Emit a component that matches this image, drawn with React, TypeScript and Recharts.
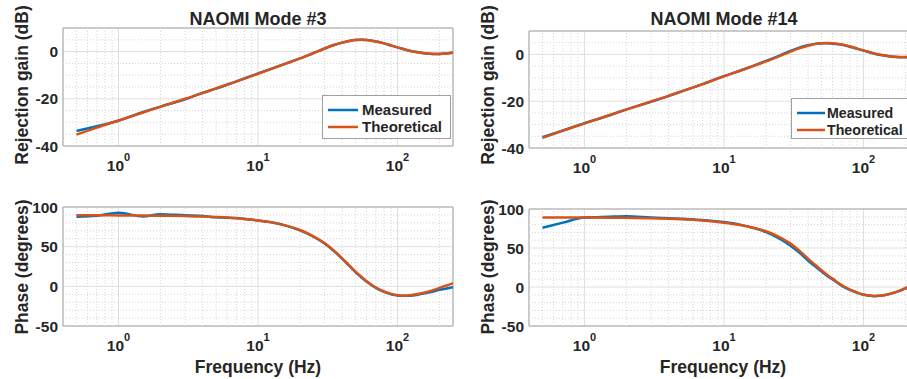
import React from 'react';
import {
  LineChart,
  Line,
  XAxis,
  YAxis,
  CartesianGrid,
  ReferenceLine,
  ReferenceArea,
} from 'recharts';

// frequency points (Hz), shared by every curve
const freq = [
  0.5, 0.7, 1, 1.5, 2, 3, 4, 5, 7, 10, 13, 16, 20, 25, 30, 35, 40, 45, 50, 55,
  60, 70, 80, 90, 100, 110, 120, 140, 160, 180, 200, 225, 250,
];

// Mode #3
const gainMeasured3 = [
  -33.6, -31.6, -29.3, -25.6, -23.3, -20.2, -17.5, -15.7, -12.6, -9.3, -6.9,
  -5.0, -2.9, -0.6, 1.3, 2.8, 3.8, 4.5, 4.9, 5.0, 4.9, 4.3, 3.5, 2.6, 1.8, 1.1,
  0.5, -0.3, -0.8, -1.0, -1.0, -0.8, -0.5,
];
const gainTheoretical3 = [
  -35.2, -32.2, -29.2, -25.8, -23.4, -20.0, -17.6, -15.6, -12.7, -9.4, -6.9,
  -5.0, -2.9, -0.6, 1.3, 2.8, 3.8, 4.5, 4.9, 5.0, 4.9, 4.3, 3.5, 2.6, 1.8, 1.1,
  0.5, -0.3, -0.8, -1.0, -1.0, -0.8, -0.4,
];
const phaseMeasured3 = [
  87.8, 89.0, 92.8, 88.0, 91.0, 89.5, 88.6, 87.0, 86.2, 83.0, 80.2, 76.2, 70.5,
  62.5, 54.0, 44.5, 35.0, 26.0, 18.0, 11.5, 6.0, -2.0, -7.0, -10.0, -11.6,
  -12.0, -11.8, -10.5, -8.5, -6.5, -4.5, -2.8, -1.2,
];
const phaseTheoretical3 = [
  89.5, 89.5, 89.4, 89.2, 89.0, 88.5, 88.0, 87.3, 85.8, 83.0, 80.0, 76.5, 71.0,
  63.0, 54.5, 45.0, 35.5, 26.5, 18.5, 12.0, 6.5, -1.5, -6.5, -9.5, -11.2,
  -11.8, -11.5, -9.6, -7.5, -4.8, -2.0, 1.0, 4.0,
];

// Mode #14
const gainMeasured14 = [
  -35.4, -32.5, -29.4, -26.1, -23.5, -20.3, -17.8, -15.8, -12.7, -9.3, -7.0,
  -5.0, -2.8, -0.5, 1.5, 3.0, 3.9, 4.5, 4.8, 4.8, 4.6, 4.1, 3.3, 2.4, 1.6, 0.9,
  0.3, -0.5, -1.0, -1.2, -1.2, -1.0, -0.6,
];
const gainTheoretical14 = [
  -35.7, -32.6, -29.5, -26.0, -23.6, -20.1, -17.7, -15.7, -12.8, -9.4, -7.0,
  -5.1, -3.0, -0.7, 1.2, 2.7, 3.7, 4.4, 4.8, 4.9, 4.8, 4.2, 3.4, 2.5, 1.7, 1.0,
  0.4, -0.4, -0.9, -1.1, -1.1, -0.9, -0.5,
];
const phaseMeasured14 = [
  76.0, 82.5, 89.0, 90.0, 90.6, 89.0, 88.0, 87.5, 85.8, 83.2, 80.0, 76.0, 70.5,
  62.0, 53.0, 43.5, 34.0, 26.5, 19.8, 14.2, 9.8, 1.5, -3.8, -7.4, -10.0, -11.3,
  -11.7, -10.7, -8.2, -5.3, -1.8, 1.2, 3.6,
];
const phaseTheoretical14 = [
  89.0, 89.0, 89.0, 88.9, 88.7, 88.2, 87.6, 86.9, 85.3, 82.5, 79.5, 76.2, 71.5,
  64.0, 55.6, 46.0, 36.4, 28.5, 21.4, 15.5, 10.8, 2.2, -3.3, -7.0, -9.7, -11.0,
  -11.5, -10.5, -8.0, -5.0, -1.5, 1.5, 4.0,
];

const xDomain: [number, number] = [0.4, 250];
const xTicks = [1, 10, 100];
const xMinor = [
  0.5, 0.6, 0.7, 0.8, 0.9, 2, 3, 4, 5, 6, 7, 8, 9, 20, 30, 40, 50, 60, 70, 80,
  90, 200,
];
const gainTicks = [-40, -20, 0];
const gainMinor = [-35, -30, -25, -15, -10, -5, 5];
const phaseTicks = [-50, 0, 50, 100];
const phaseMinor = [-40, -30, -20, -10, 10, 20, 30, 40, 60, 70, 80, 90];

const BLUE = '#0072BD';
const ORANGE = '#D95319';
const TEXT = '#262626';
const FONT = '"Liberation Sans", Arial, Helvetica, sans-serif';

const toRows = (measured: number[], theoretical: number[]) =>
  freq.map((f, i) => ({ f, measured: measured[i], theoretical: theoretical[i] }));

const PowerTick = (props: any) => {
  const { x, y, payload } = props;
  const exp = Math.round(Math.log10(payload.value));
  return (
    <text
      x={x}
      y={y + 25}
      textAnchor="middle"
      fontFamily={FONT}
      fontWeight="bold"
      fill={TEXT}
    >
      <tspan fontSize={15.5}>10</tspan>
      <tspan fontSize={11} dy={-10}>
        {exp}
      </tspan>
    </text>
  );
};

type PanelProps = {
  x0: number;
  y0: number;
  y1: number;
  rows: { f: number; measured: number; theoretical: number }[];
  yDomain: [number, number];
  yTicks: number[];
  yMinor: number[];
};

const Panel = ({ x0, y0, y1, rows, yDomain, yTicks, yMinor }: PanelProps) => {
  const plotH = y1 - y0;
  return (
    <div style={{ position: 'absolute', left: x0 - 63, top: y0 - 28 }}>
      <LineChart
        width={460}
        height={plotH + 63}
        data={rows}
        margin={{ top: 28, right: 7, bottom: 5, left: 23 }}
      >
        <XAxis
          dataKey="f"
          type="number"
          scale="log"
          domain={xDomain}
          ticks={xTicks}
          interval={0}
          allowDataOverflow
          height={30}
          tickSize={0}
          tickMargin={0}
          axisLine={false}
          tickLine={false}
          tick={<PowerTick />}
        />
        <YAxis
          type="number"
          domain={yDomain}
          ticks={yTicks}
          interval={0}
          allowDataOverflow
          width={40}
          tickSize={0}
          tickMargin={5}
          axisLine={false}
          tickLine={false}
          tick={{ fill: TEXT, fontSize: 15.5, fontWeight: 'bold', fontFamily: FONT }}
        />
        {xMinor.map((v) => (
          <ReferenceLine key={'x' + v} x={v} stroke="#d6d6d6" strokeDasharray="1 2" />
        ))}
        {yMinor.map((v) => (
          <ReferenceLine key={'y' + v} y={v} stroke="#d6d6d6" strokeDasharray="1 2" />
        ))}
        <CartesianGrid stroke="#e0e0e0" />
        <ReferenceArea
          x1={xDomain[0]}
          x2={xDomain[1]}
          y1={yDomain[0]}
          y2={yDomain[1]}
          fill="none"
          fillOpacity={0}
          stroke="#a6a6a6"
        />
        <Line
          dataKey="measured"
          type="monotone"
          stroke={BLUE}
          strokeWidth={2.5}
          dot={false}
          isAnimationActive={false}
        />
        <Line
          dataKey="theoretical"
          type="monotone"
          stroke={ORANGE}
          strokeWidth={2.5}
          dot={false}
          isAnimationActive={false}
        />
      </LineChart>
    </div>
  );
};

type LegendProps = {
  x: number;
  y: number;
  w: number;
  h: number;
  lineLen: number;
  textX: number;
  size: number;
};

const LegendBox = ({ x, y, w, h, lineLen, textX, size }: LegendProps) => (
  <g>
    <rect x={x + 0.5} y={y + 0.5} width={w} height={h} fill="#fff" stroke="#a0a0a0" />
    <line x1={x + 6} x2={x + 6 + lineLen} y1={y + 15} y2={y + 15} stroke={BLUE} strokeWidth={2.5} />
    <line x1={x + 6} x2={x + 6 + lineLen} y1={y + 32} y2={y + 32} stroke={ORANGE} strokeWidth={2.5} />
    <text x={x + textX} y={y + 20.3} fontSize={size} fontWeight="bold" fontFamily={FONT} fill={TEXT}>
      Measured
    </text>
    <text x={x + textX} y={y + 37.3} fontSize={size} fontWeight="bold" fontFamily={FONT} fill={TEXT}>
      Theoretical
    </text>
  </g>
);

const labelStyle = {
  fontSize: 17.5,
  fontWeight: 'bold' as const,
  fontFamily: FONT,
  fill: TEXT,
};

export default function App() {
  return (
    <div
      style={{
        position: 'absolute',
        left: 0,
        top: 0,
        width: 907,
        height: 379,
        overflow: 'hidden',
        background: '#fff',
      }}
    >
      <Panel
        x0={63}
        y0={28}
        y1={146}
        rows={toRows(gainMeasured3, gainTheoretical3)}
        yDomain={[-40, 10]}
        yTicks={gainTicks}
        yMinor={gainMinor}
      />
      <Panel
        x0={529}
        y0={31}
        y1={148}
        rows={toRows(gainMeasured14, gainTheoretical14)}
        yDomain={[-40, 10]}
        yTicks={gainTicks}
        yMinor={gainMinor}
      />
      <Panel
        x0={63}
        y0={207}
        y1={326}
        rows={toRows(phaseMeasured3, phaseTheoretical3)}
        yDomain={[-50, 100]}
        yTicks={phaseTicks}
        yMinor={phaseMinor}
      />
      <Panel
        x0={529}
        y0={209}
        y1={326}
        rows={toRows(phaseMeasured14, phaseTheoretical14)}
        yDomain={[-50, 100]}
        yTicks={phaseTicks}
        yMinor={phaseMinor}
      />
      <svg
        width={907}
        height={379}
        style={{ position: 'absolute', left: 0, top: 0, pointerEvents: 'none' }}
      >
        <text x={258} y={25} textAnchor="middle" {...labelStyle} fontSize={18}>
          NAOMI Mode #3
        </text>
        <text x={724} y={25} textAnchor="middle" {...labelStyle} fontSize={18}>
          NAOMI Mode #14
        </text>
        <text transform="translate(28,85) rotate(-90)" textAnchor="middle" {...labelStyle}>
          Rejection gain (dB)
        </text>
        <text transform="translate(28,267) rotate(-90)" textAnchor="middle" {...labelStyle}>
          Phase (degrees)
        </text>
        <text transform="translate(494,85) rotate(-90)" textAnchor="middle" {...labelStyle}>
          Rejection gain (dB)
        </text>
        <text transform="translate(494,267) rotate(-90)" textAnchor="middle" {...labelStyle}>
          Phase (degrees)
        </text>
        <text x={258} y={373} textAnchor="middle" {...labelStyle}>
          Frequency (Hz)
        </text>
        <text x={723} y={373} textAnchor="middle" {...labelStyle}>
          Frequency (Hz)
        </text>
        <LegendBox x={322} y={95} w={128} h={43} lineLen={30} textX={40} size={15} />
        <LegendBox x={791} y={98} w={128} h={40} lineLen={28} textX={36} size={14.2} />
      </svg>
    </div>
  );
}
